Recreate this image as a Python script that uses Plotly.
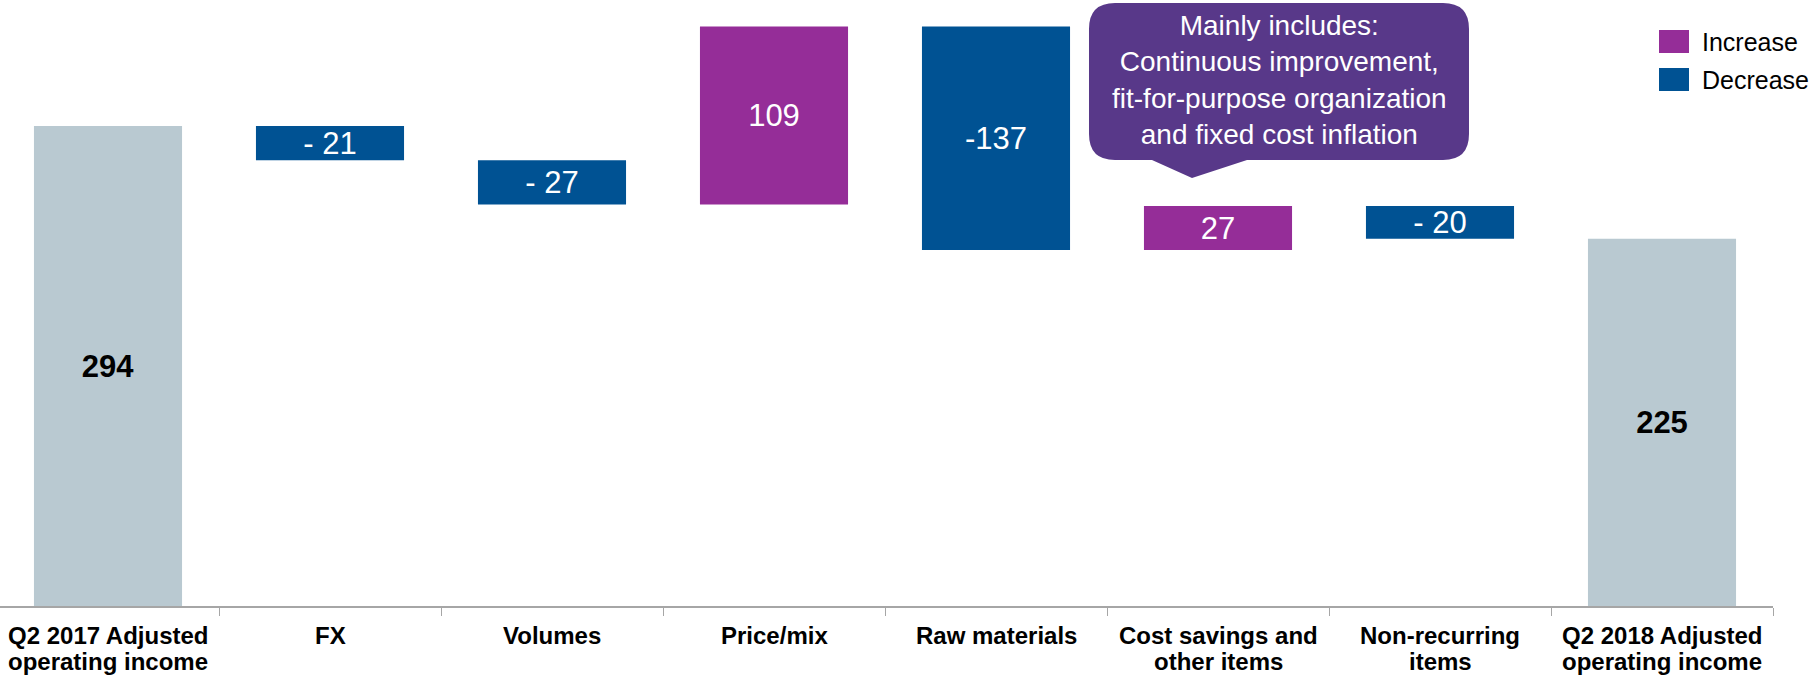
import plotly.graph_objects as go

# ---------------- data ----------------
categories = [
    "Q2 2017 Adjusted<br>operating income",
    "FX",
    "Volumes",
    "Price/mix",
    "Raw materials",
    "Cost savings and<br>other items",
    "Non-recurring<br>items",
    "Q2 2018 Adjusted<br>operating income",
]
measures = ["absolute", "relative", "relative", "relative", "relative", "relative", "relative", "total"]
values = [294, -21, -27, 109, -137, 27, -20, 0]
value_labels = ["294", "- 21", "- 27", "109", "-137", "27", "- 20", "225"]
legend_labels = ["Increase", "Decrease"]
callout_text = "Mainly includes:<br>Continuous improvement,<br>fit-for-purpose organization<br>and fixed cost inflation"

# ---------------- style ----------------
FONT = "Liberation Sans, Arial, sans-serif"
C_INC = "#952D98"
C_DEC = "#005293"
C_TOT = "#B9C9D1"
C_CALL = "#583889"

W, H = 1816, 676
ML, MR, MT, MB = 0, 43, 0, 70
PW, PH = W - ML - MR, H - MT - MB


def px(x):
    return (x - ML) / PW


def py(y):
    return 1 - (y - MT) / PH


is_total = [m in ("absolute", "total") for m in measures]
text_html = [f"<b>{t}</b>" if tot else t for t, tot in zip(value_labels, is_total)]
text_colors = ["black" if tot else "white" for tot in is_total]

fig = go.Figure()
fig.add_trace(go.Waterfall(
    x=list(range(len(categories))),
    y=values,
    measure=measures,
    text=text_html,
    textposition="inside",
    insidetextanchor="middle",
    constraintext="none",
    textfont=dict(family=FONT, size=31, color=text_colors),
    width=0.667,
    increasing=dict(marker=dict(color=C_INC, line=dict(width=0))),
    decreasing=dict(marker=dict(color=C_DEC, line=dict(width=0))),
    totals=dict(marker=dict(color=C_TOT, line=dict(width=0))),
    connector=dict(visible=False),
    showlegend=False,
    hoverinfo="skip",
))

annotations = []
# category labels (one annotation per text line, tight line spacing)
line_mid = [635, 661]
for i, cat in enumerate(categories):
    for j, line in enumerate(cat.split("<br>")):
        annotations.append(dict(
            x=i, xref="x", y=py(line_mid[j]), yref="paper",
            text=f"<b>{line}</b>", showarrow=False,
            xanchor="center", yanchor="middle",
            font=dict(family=FONT, size=24, color="black"),
        ))

# callout text
annotations.append(dict(
    x=px(1279), xref="paper", y=py(80), yref="paper",
    text=callout_text, showarrow=False, xanchor="center", yanchor="middle",
    align="center", font=dict(family=FONT, size=28, color="white"),
))

# legend labels
leg_y = [42, 80]
for lab, yy in zip(legend_labels, leg_y):
    annotations.append(dict(
        x=px(1700), xref="paper", y=py(yy), yref="paper",
        text=lab, showarrow=False, xanchor="left", yanchor="middle",
        font=dict(family=FONT, size=25, color="black"),
    ))

shapes = []
# legend swatches
for col, (y0, y1) in zip([C_INC, C_DEC], [(30, 53), (68, 91)]):
    shapes.append(dict(type="rect", xref="paper", yref="paper",
                       x0=px(1659), x1=px(1689), y0=py(y1), y1=py(y0),
                       fillcolor=col, line=dict(width=0)))

# callout bubble (rounded rect with pointer)
x0, x1, y0, y1, r = 1089, 1469, 3, 160, 26


def P(x, y):
    return f"{px(x):.6f},{py(y):.6f}"


path = (
    f"M {P(x0 + r, y0)} L {P(x1 - r, y0)} Q {P(x1, y0)} {P(x1, y0 + r)} "
    f"L {P(x1, y1 - r)} Q {P(x1, y1)} {P(x1 - r, y1)} "
    f"L {P(1247, y1)} L {P(1192, 178)} L {P(1152, y1)} "
    f"L {P(x0 + r, y1)} Q {P(x0, y1)} {P(x0, y1 - r)} "
    f"L {P(x0, y0 + r)} Q {P(x0, y0)} {P(x0 + r, y0)} Z"
)
shapes.append(dict(type="path", xref="paper", yref="paper", path=path,
                   fillcolor=C_CALL, line=dict(width=0), layer="above"))

fig.update_layout(
    width=W, height=H,
    margin=dict(l=ML, r=MR, t=MT, b=MB, pad=0),
    paper_bgcolor="white", plot_bgcolor="white",
    font=dict(family=FONT),
    showlegend=False,
    annotations=annotations,
    shapes=shapes,
    xaxis=dict(
        type="linear",
        range=[-0.5 + 3 / 222, 7.5],
        tickmode="array",
        tickvals=[i + 0.5 for i in range(-1, len(categories))],
        ticktext=["" for _ in range(len(categories) + 1)],
        ticks="outside", ticklen=8, tickcolor="#A6A6A6", tickwidth=1,
        showline=True, linecolor="#A6A6A6", linewidth=1.5,
        showgrid=False, zeroline=False, fixedrange=True,
    ),
    yaxis=dict(
        range=[0, 371.2], visible=False, showgrid=False, zeroline=False, fixedrange=True,
    ),
)

fig.write_html("out.html")
